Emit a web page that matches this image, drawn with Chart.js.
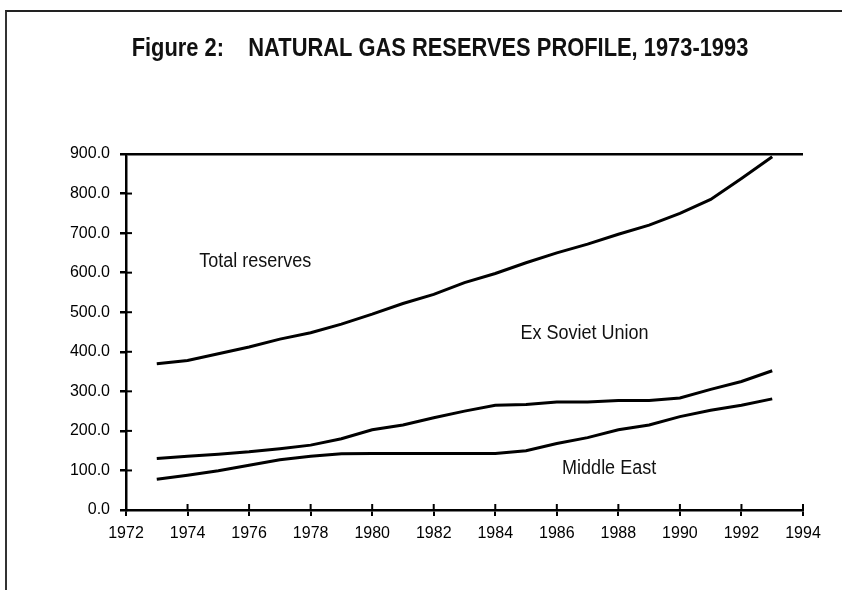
<!DOCTYPE html>
<html>
<head>
<meta charset="utf-8">
<script src="https://cdn.jsdelivr.net/npm/chart.js@4.4.1/dist/chart.umd.min.js"></script>
<style>
  html, body { margin: 0; padding: 0; background: #fff; }
  #wrap { position: relative; width: 842px; height: 590px; }
  #frame { position: absolute; left: 5px; top: 10px; right: 0; bottom: 0;
           border-top: 2px solid #222; border-left: 2px solid #333; }
  canvas { position: absolute; left: 0; top: 0; }
</style>
</head>
<body>
<div id="wrap">
  <div id="frame"></div>
  <canvas id="chart" width="842" height="590"></canvas>
</div>
<script>
const years = [1973, 1974, 1975, 1976, 1977, 1978, 1979, 1980, 1981, 1982, 1983,
               1984, 1985, 1986, 1987, 1988, 1989, 1990, 1991, 1992, 1993];
const totalReserves = [370, 378, 395, 412, 432, 448, 470, 495, 522, 545, 575,
                       598, 625, 650, 672, 697, 720, 750, 785, 838, 893];
const exSovietUnion = [130, 136, 141, 147, 155, 164, 180, 203, 215, 233, 250,
                       265, 267, 273, 273, 277, 277, 283, 305, 325, 352];
const middleEast = [78, 88, 99, 113, 127, 136, 142, 143, 143, 143, 143,
                    143, 150, 168, 183, 203, 215, 236, 252, 265, 281];

const titleText = 'Figure 2:    NATURAL GAS RESERVES PROFILE, 1973-1993';

// series name labels, placed in data units
const seriesLabels = [
  { text: 'Total reserves', x: 1976.2, y: 629 },
  { text: 'Ex Soviet Union', x: 1986.9, y: 445 },
  { text: 'Middle East', x: 1987.7, y: 106 }
];

const toPoints = (vals) => vals.map((v, i) => ({ x: years[i], y: v }));

const sans = '"Liberation Sans", Arial, sans-serif';

// draw text squeezed horizontally (no narrow face installed)
function narrowText(ctx, text, x, y, squeeze) {
  ctx.save();
  ctx.translate(x, y);
  ctx.scale(squeeze, 1);
  ctx.fillText(text, 0, 0);
  ctx.restore();
}

// title, inner half of the tick marks, series labels
const extras = {
  id: 'extras',
  afterDraw(chart) {
    const { ctx, chartArea, scales } = chart;
    ctx.save();
    ctx.strokeStyle = '#000';
    ctx.lineWidth = 2;
    scales.y.ticks.forEach((t) => {
      const py = scales.y.getPixelForValue(t.value);
      ctx.beginPath();
      ctx.moveTo(chartArea.left, py);
      ctx.lineTo(chartArea.left + 6, py);
      ctx.stroke();
    });
    scales.x.ticks.forEach((t) => {
      const px = scales.x.getPixelForValue(t.value);
      ctx.beginPath();
      ctx.moveTo(px, chartArea.bottom);
      ctx.lineTo(px, chartArea.bottom - 6);
      ctx.stroke();
    });

    ctx.fillStyle = '#111';
    ctx.textAlign = 'center';
    ctx.textBaseline = 'middle';
    ctx.font = 'bold 25px ' + sans;
    narrowText(ctx, titleText, 440, 49, 0.875);

    ctx.font = '20px ' + sans;
    seriesLabels.forEach((l) => {
      narrowText(ctx, l.text, scales.x.getPixelForValue(l.x), scales.y.getPixelForValue(l.y), 0.9);
    });
    ctx.restore();
  }
};

const lineStyle = { borderColor: '#000', borderWidth: 3, pointRadius: 0, tension: 0, fill: false };

new Chart(document.getElementById('chart'), {
  type: 'line',
  data: {
    datasets: [
      { label: 'Total reserves', data: toPoints(totalReserves), ...lineStyle },
      { label: 'Ex Soviet Union', data: toPoints(exSovietUnion), ...lineStyle },
      { label: 'Middle East', data: toPoints(middleEast), ...lineStyle }
    ]
  },
  options: {
    responsive: false,
    animation: false,
    layout: { padding: { left: 0, right: 39, top: 154, bottom: 0 } },
    plugins: {
      legend: { display: false },
      tooltip: { enabled: false }
    },
    scales: {
      x: {
        type: 'linear',
        min: 1972,
        max: 1994,
        border: { color: '#000', width: 2.5 },
        grid: { drawOnChartArea: false, tickLength: 6, tickColor: '#000', lineWidth: 2 },
        ticks: {
          stepSize: 2,
          padding: 8,
          color: '#000',
          font: { family: sans, size: 16 },
          callback: (v) => String(v)
        },
        afterFit: (s) => { s.height = 80; }
      },
      y: {
        min: 0,
        max: 900,
        border: { color: '#000', width: 2.5 },
        grid: {
          tickLength: 6,
          tickColor: '#000',
          lineWidth: 2.5,
          color: (c) => (c.tick && c.tick.value === 900 ? '#000' : 'rgba(0,0,0,0)')
        },
        ticks: {
          stepSize: 100,
          padding: 10,
          color: '#000',
          font: { family: sans, size: 16 },
          callback: (v) => v.toFixed(1)
        },
        afterFit: (s) => { s.width = 126; }
      }
    }
  },
  plugins: [extras]
});
</script>
</body>
</html>
